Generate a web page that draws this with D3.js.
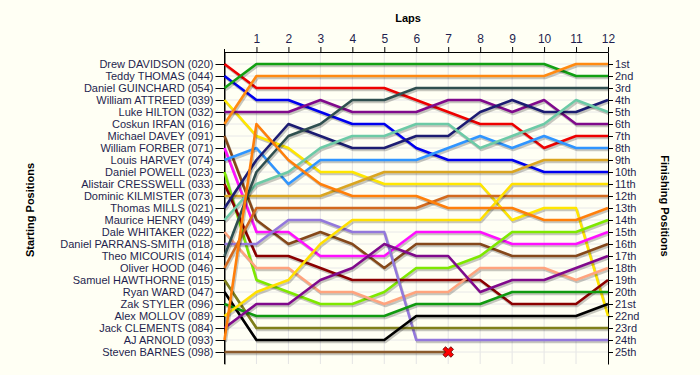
<!DOCTYPE html>
<html>
<head>
<meta charset="utf-8">
<script src="https://cdn.jsdelivr.net/npm/d3@7"></script>
<style>
  body { margin: 0; background: #fffff4; }
  svg { display: block; font-family: "Liberation Sans", Arial, sans-serif; }
</style>
</head>
<body>
<div id="chart"></div>
<script>
const width = 700,
  height = 375,
  padding = {top: 52, right: 92, bottom: 11, left: 224.5};

const laps = [0, 1, 2, 3, 4, 5, 6, 7, 8, 9, 10, 11, 12];

const drivers = [
  'Drew DAVIDSON (020)', 'Teddy THOMAS (044)', 'Daniel GUINCHARD (054)', 'William ATTREED (039)',
  'Luke HILTON (032)', 'Coskun IRFAN (016)', 'Michael DAVEY (091)', 'William FORBER (071)',
  'Louis HARVEY (074)', 'Daniel POWELL (023)', 'Alistair CRESSWELL (033)', 'Dominic KILMISTER (073)',
  'Thomas MILLS (021)', 'Maurice HENRY (049)', 'Dale WHITAKER (022)', 'Daniel PARRANS-SMITH (018)',
  'Theo MICOURIS (014)', 'Oliver HOOD (046)', 'Samuel HAWTHORNE (015)', 'Ryan WARD (047)',
  'Zak STYLER (096)', 'Alex MOLLOV (089)', 'Jack CLEMENTS (084)', 'AJ ARNOLD (093)', 'Steven BARNES (098)'
];

const colors = [
  '#ee0000', '#0000ee', '#12a012', '#ffe600', '#800a8c', '#ff8a12', '#85481a', '#ff10ff',
  '#2f95ff', '#7ee800', '#8b0000', '#daa520', '#1c1c72', '#6ccaa6', '#ffa47e', '#9378dc',
  '#2f4f4f', '#d2691e', '#7f7f1a', '#000000', '#109a10', '#ffe000', '#800a8c', '#ff7f0a', '#8b5a2b'
];

// position of each driver after each lap (lap 0 = grid)
const positions = [
  [1, 3, 3, 3, 3, 3, 4, 5, 6, 6, 8, 7, 7],
  [2, 4, 4, 5, 6, 6, 8, 9, 9, 9, 10, 10, 10],
  [3, 1, 1, 1, 1, 1, 1, 1, 1, 1, 1, 2, 2],
  [4, 7, 8, 10, 10, 11, 11, 11, 11, 14, 13, 13, 22],
  [5, 5, 5, 4, 5, 5, 5, 4, 4, 5, 4, 6, 6],
  [6, 2, 2, 2, 2, 2, 2, 2, 2, 2, 2, 1, 1],
  [7, 14, 16, 15, 16, 18, 16, 16, 16, 17, 17, 17, 16],
  [8, 15, 15, 17, 17, 17, 15, 15, 15, 16, 16, 16, 15],
  [9, 8, 11, 9, 9, 9, 9, 8, 7, 8, 7, 8, 8],
  [10, 19, 20, 21, 21, 20, 18, 18, 17, 15, 15, 15, 14],
  [11, 17, 17, 18, 19, 19, 19, 19, 19, 21, 21, 21, 19],
  [12, 12, 12, 12, 11, 10, 10, 10, 10, 10, 9, 9, 9],
  [13, 9, 6, 7, 8, 8, 7, 7, 5, 4, 5, 5, 4],
  [14, 11, 10, 8, 7, 7, 6, 6, 8, 7, 6, 4, 5],
  [15, 18, 18, 20, 20, 21, 20, 20, 18, 18, 18, 19, 18],
  [16, 16, 14, 14, 15, 15, 24, 24, 24, 24, 24, 24, 24],
  [17, 10, 7, 6, 4, 4, 3, 3, 3, 3, 3, 3, 3],
  [18, 13, 13, 13, 13, 13, 13, 12, 12, 12, 12, 12, 12],
  [19, 23, 23, 23, 23, 23, 23, 23, 23, 23, 23, 23, 23],
  [20, 24, 24, 24, 24, 24, 22, 22, 22, 22, 22, 22, 21],
  [21, 22, 22, 22, 22, 22, 21, 21, 21, 20, 20, 20, 20],
  [22, 20, 19, 16, 14, 14, 14, 14, 14, 11, 11, 11, 11],
  [23, 21, 21, 19, 18, 16, 17, 17, 20, 19, 19, 18, 17],
  [24, 6, 9, 11, 12, 12, 12, 13, 13, 13, 14, 14, 13],
  [25, 25, 25, 25, 25, 25, 25, 25, null, null, null, null, null]
];

const finishLabels = ['1st', '2nd', '3rd', '4th', '5th', '6th', '7th', '8th', '9th', '10th',
  '11th', '12th', '13th', '14th', '15th', '16th', '17th', '18th', '19th', '20th',
  '21st', '22nd', '23rd', '24th', '25th'];

const textColor = '#1f1f4f';
const rows = d3.range(1, 26);

const x = d3.scaleLinear()
  .domain([0, 12])
  .range([padding.left, width - padding.right]);

const y = d3.scaleLinear()
  .domain([0, 26])
  .range([padding.top, height - padding.bottom]);

const svg = d3.select('#chart')
  .append('svg')
  .attr('width', width)
  .attr('height', height);

svg.append('rect')
  .attr('width', width)
  .attr('height', height)
  .attr('fill', '#fffff4');

// grid
const grid = svg.append('g').attr('class', 'grid');
grid.selectAll('line.v')
  .data(laps.slice(1, 12))
  .enter().append('line')
  .attr('class', 'v')
  .attr('x1', d => x(d)).attr('x2', d => x(d))
  .attr('y1', y(0)).attr('y2', y(26))
  .attr('stroke', '#e4e4e4');
grid.selectAll('line.h')
  .data(rows)
  .enter().append('line')
  .attr('class', 'h')
  .attr('x1', x(0)).attr('x2', x(12))
  .attr('y1', d => y(d)).attr('y2', d => y(d))
  .attr('stroke', '#e8e8e8');

// axes
const lapAxis = svg.append('g')
  .attr('transform', `translate(0,${y(0)})`)
  .call(d3.axisTop(x).tickValues(laps.slice(1)).tickSize(5).tickSizeOuter(0));

const startAxis = svg.append('g')
  .attr('transform', `translate(${x(0)},0)`)
  .call(d3.axisLeft(y).tickValues(rows).tickFormat(d => drivers[d - 1]).tickSize(9).tickSizeOuter(0));

const finishAxis = svg.append('g')
  .attr('transform', `translate(${x(12)},0)`)
  .call(d3.axisRight(y).tickValues(rows).tickFormat(d => finishLabels[d - 1]).tickSize(5).tickSizeOuter(0));

[lapAxis, startAxis, finishAxis].forEach(a => {
  a.select('.domain').attr('stroke', '#000');
  a.selectAll('.tick line').attr('stroke', '#000');
  a.selectAll('.tick text')
    .attr('fill', textColor)
    .style('font-size', '11px')
    .style('font-family', '"Liberation Sans", Arial, sans-serif');
});
lapAxis.selectAll('.tick text').style('font-size', '12px').attr('dy', '-0.1em');
startAxis.selectAll('.tick text').attr('x', -11);
finishAxis.selectAll('.tick text').attr('x', 7);

// left axis pokes a touch above the lap axis
svg.append('line')
  .attr('x1', x(0)).attr('x2', x(0)).attr('y1', y(0) - 3).attr('y2', y(26))
  .attr('stroke', '#000');

// driver lines
const line = d3.line()
  .defined(d => d.pos !== null)
  .x(d => x(d.lap))
  .y(d => y(d.pos));

const series = positions.map((p, i) => ({
  name: drivers[i],
  color: colors[i],
  values: p.map((pos, lap) => ({lap: lap, pos: pos}))
}));

const lines = svg.append('g').attr('class', 'lines');

series.forEach(s => {
  lines.append('path')
    .attr('d', line(s.values))
    .attr('fill', 'none')
    .attr('stroke', '#000')
    .attr('stroke-opacity', 0.22)
    .attr('stroke-width', 2.6)
    .attr('stroke-linejoin', 'round')
    .attr('transform', 'translate(1.2,2)');
  lines.append('path')
    .attr('d', line(s.values))
    .attr('fill', 'none')
    .attr('stroke', s.color)
    .attr('stroke-width', 2.6)
    .attr('stroke-linejoin', 'round');
});

// retirement marker
series.forEach(s => {
  const run = s.values.filter(v => v.pos !== null);
  if (run.length < laps.length) {
    const end = run[run.length - 1];
    svg.append('path')
      .attr('d', d3.symbol(d3.symbolCross, 70)())
      .attr('transform', `translate(${x(end.lap)},${y(end.pos)}) rotate(45)`)
      .attr('fill', '#ff0000')
      .attr('stroke', '#600000')
      .attr('stroke-width', 0.8);
  }
});

// titles
svg.append('text')
  .attr('x', 408).attr('y', 22)
  .attr('text-anchor', 'middle')
  .style('font-size', '11px').style('font-weight', 'bold')
  .text('Laps');

svg.append('text')
  .attr('transform', `translate(34,${(y(0) + y(26)) / 2 + 2}) rotate(-90)`)
  .attr('text-anchor', 'middle')
  .style('font-size', '11px').style('font-weight', 'bold')
  .text('Starting Positions');

svg.append('text')
  .attr('transform', `translate(661,${(y(0) + y(26)) / 2 - 2}) rotate(90)`)
  .attr('text-anchor', 'middle')
  .style('font-size', '11px').style('font-weight', 'bold')
  .text('Finishing Positions');
</script>
</body>
</html>
